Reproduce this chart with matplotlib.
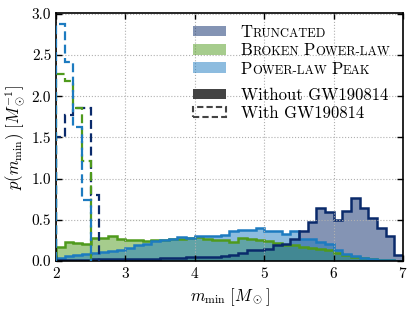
import numpy as np
import matplotlib
matplotlib.use('Agg')
import matplotlib.pyplot as plt
import matplotlib.patches as mpatches

NAVY = '#0a2a6b'; GREEN = '#4f9a1c'; LBLUE = '#1d7bc0'; DGRAY = '#444444'
plt.rcParams.update({'font.family': 'cmr10', 'mathtext.fontset': 'cm',
                     'axes.formatter.use_mathtext': True, 'font.size': 11})

# posterior densities of m_min, bins of 0.125 Msun from 2 to 7 (without GW190814)
edges = np.arange(2.0, 7.0001, 0.125)
trunc = [0.01, 0.01, 0.01, 0.015, 0.02, 0.02, 0.02, 0.02,
         0.025, 0.025, 0.03, 0.03, 0.035, 0.04, 0.04, 0.045,
         0.05, 0.05, 0.055, 0.06, 0.08, 0.10, 0.13, 0.13,
         0.15, 0.19, 0.21, 0.27, 0.37, 0.48, 0.64, 0.59,
         0.50, 0.61, 0.76, 0.65, 0.52, 0.40, 0.30, 0.07]
bpl = [0.17, 0.23, 0.22, 0.21, 0.28, 0.28, 0.30, 0.27,
       0.26, 0.25, 0.24, 0.25, 0.26, 0.27, 0.27, 0.28,
       0.29, 0.27, 0.25, 0.25, 0.23, 0.28, 0.27, 0.25,
       0.24, 0.22, 0.20, 0.20, 0.17, 0.16, 0.15, 0.13,
       0.10, 0.07, 0.05, 0.035, 0.02, 0.015, 0.01, 0.005]
plp = [0.04, 0.06, 0.07, 0.09, 0.10, 0.11, 0.12, 0.14,
       0.16, 0.19, 0.21, 0.24, 0.26, 0.27, 0.29, 0.28,
       0.31, 0.31, 0.30, 0.32, 0.36, 0.38, 0.38, 0.40,
       0.37, 0.36, 0.33, 0.37, 0.27, 0.27, 0.23, 0.21,
       0.14, 0.09, 0.06, 0.04, 0.02, 0.015, 0.01, 0.005]

# with GW190814
edges_trunc_gw = [2.0, 2.125, 2.25, 2.375, 2.5, 2.625]
trunc_gw = [1.50, 1.77, 1.86, 1.86, 0.80]
edges_bpl_gw = [2.0, 2.125, 2.25, 2.375, 2.5]
bpl_gw = [2.27, 2.18, 1.86, 1.21]
edges_plp_gw = [2.0, 2.125, 2.25, 2.375, 2.5]
plp_gw = [2.88, 2.42, 1.63, 0.74]

fig = plt.figure(figsize=(4.15, 3.09), dpi=100)
ax = fig.add_axes([0.135, 0.155, 0.836, 0.803])

for vals, c in [(trunc, NAVY), (bpl, GREEN), (plp, LBLUE)]:
    ax.stairs(vals, edges, fill=True, color=c, alpha=0.5, lw=0)
for vals, c in [(bpl, GREEN), (plp, LBLUE), (trunc, NAVY)]:
    ax.stairs(vals, edges, color=c, lw=1.8)
for vals, e, c in [(trunc_gw, edges_trunc_gw, NAVY), (bpl_gw, edges_bpl_gw, GREEN),
                   (plp_gw, edges_plp_gw, LBLUE)]:
    ax.stairs(vals, e, color=c, lw=1.6, ls=(0, (4, 2)), zorder=4)

ax.set_xlim(2, 7); ax.set_ylim(0, 3.01)
ax.set_xticks([2, 3, 4, 5, 6, 7])
ax.set_yticks([0, 0.5, 1.0, 1.5, 2.0, 2.5, 3.0])
ax.set_yticklabels(['0.0', '0.5', '1.0', '1.5', '2.0', '2.5', '3.0'])
ax.tick_params(direction='in', top=True, right=True, length=4, width=1, labelsize=11)
for s in ax.spines.values():
    s.set_linewidth(1.2)
ax.grid(True, ls=':', color='#b0b0b0', lw=0.8)
ax.set_xlabel(r'$m_{\rm min}\ [M_\odot]$', fontsize=12)
ax.set_ylabel(r'$p(m_{\rm min})\ [M_\odot^{-1}]$', fontsize=12)

lkw = dict(loc='upper left', frameon=False, fontsize=12, handlelength=2.0, handleheight=0.6,
           handletextpad=0.85, labelspacing=0.18, borderpad=0, borderaxespad=0)
h1 = [mpatches.Patch(facecolor=c, alpha=0.5, edgecolor='none') for c in (NAVY, GREEN, LBLUE)]
leg1 = ax.legend(h1, ['T', 'B', 'P'], bbox_to_anchor=(0.395, 0.953), **lkw)
ax.add_artist(leg1)
h2 = [mpatches.Patch(facecolor=DGRAY, edgecolor='none'),
      mpatches.Patch(facecolor='none', edgecolor=DGRAY, ls=(0, (3, 1.5)), lw=1.5)]
leg2 = ax.legend(h2, ['Without GW190814', 'With GW190814'], bbox_to_anchor=(0.395, 0.700), **lkw)

# small caps labels built from chained texts
sc_parts = [[('RUNCATED', 9, 0)],
            [('ROKEN', 9, 0), ('P', 12, 3.5), ('OWER-LAW', 9, 0)],
            [('OWER-LAW', 9, 0), ('P', 12, 3.5), ('EAK', 9, 0)]]
for t, parts in zip(leg1.get_texts(), sc_parts):
    prev = t
    for s, size, gap in parts:
        prev = ax.annotate(s, xy=(1, 0), xycoords=prev, xytext=(gap, 0), textcoords='offset points',
                           fontsize=size, va='bottom', ha='left', zorder=10, annotation_clip=False)

plt.savefig('out.png', dpi=100)
